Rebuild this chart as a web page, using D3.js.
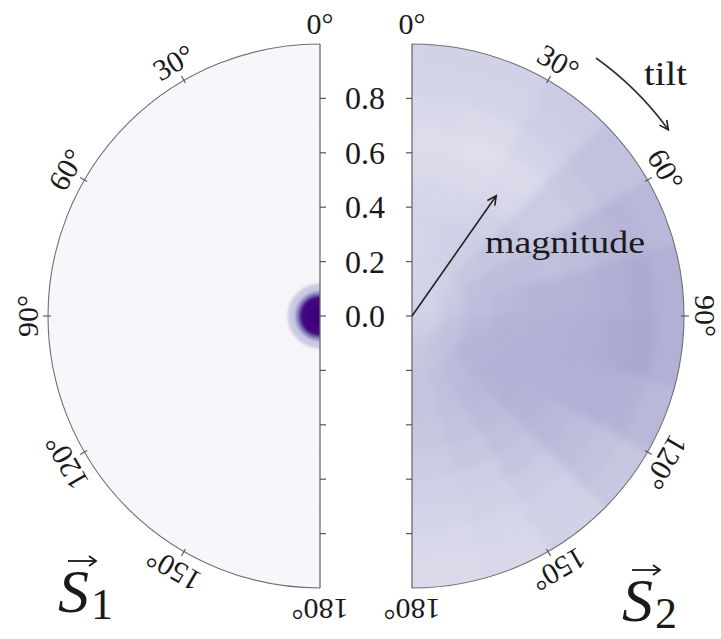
<!DOCTYPE html>
<html>
<head>
<meta charset="utf-8">
<script src="https://cdn.jsdelivr.net/npm/d3@7"></script>
<style>
  html, body { margin: 0; padding: 0; background: #ffffff; }
  svg { display: block; }
  text { font-family: "Liberation Serif", "DejaVu Serif", serif; fill: #1a1a1a; }
</style>
</head>
<body>
<svg id="chart" width="721" height="639"></svg>
<script>
// ---------------- DATA ----------------
// Radial bin edges (magnitude) and angular bin edges (tilt, degrees)
const radialEdges = [0, 0.04, 0.075, 0.09, 0.12, 0.2, 0.3, 0.4, 0.5, 0.6, 0.7, 0.8, 0.9, 1.0];
const tiltEdges = [0, 15, 30, 45, 60, 75, 90, 105, 120, 135, 150, 165, 180];

// S1 density (colour-scale value) per radial bin; uniform in tilt
const s1Density = [1.0, 0.98, 0.62, 0.32, 0.05, 0.04, 0.04, 0.04, 0.04, 0.04, 0.04, 0.04, 0.04];

// S2 density: one row per tilt bin, one column per radial bin
const s2Density = [
  [0.27, 0.27, 0.27, 0.27, 0.27, 0.27, 0.27, 0.26, 0.24, 0.23, 0.25, 0.27, 0.28],
  [0.27, 0.27, 0.27, 0.27, 0.27, 0.28, 0.28, 0.26, 0.24, 0.22, 0.24, 0.27, 0.28],
  [0.27, 0.27, 0.27, 0.27, 0.28, 0.30, 0.30, 0.28, 0.25, 0.24, 0.27, 0.30, 0.31],
  [0.27, 0.27, 0.27, 0.28, 0.30, 0.33, 0.34, 0.33, 0.31, 0.31, 0.33, 0.35, 0.35],
  [0.27, 0.27, 0.28, 0.29, 0.32, 0.36, 0.37, 0.37, 0.36, 0.37, 0.39, 0.40, 0.39],
  [0.28, 0.28, 0.29, 0.30, 0.33, 0.37, 0.39, 0.40, 0.40, 0.41, 0.43, 0.44, 0.42],
  [0.28, 0.28, 0.29, 0.31, 0.35, 0.39, 0.41, 0.41, 0.42, 0.43, 0.44, 0.45, 0.42],
  [0.29, 0.29, 0.30, 0.32, 0.36, 0.40, 0.41, 0.42, 0.42, 0.42, 0.42, 0.41, 0.39],
  [0.29, 0.29, 0.30, 0.32, 0.36, 0.40, 0.41, 0.41, 0.40, 0.39, 0.37, 0.35, 0.33],
  [0.30, 0.30, 0.31, 0.32, 0.35, 0.38, 0.39, 0.38, 0.36, 0.34, 0.31, 0.29, 0.28],
  [0.30, 0.30, 0.31, 0.32, 0.34, 0.36, 0.36, 0.35, 0.33, 0.30, 0.28, 0.26, 0.25],
  [0.30, 0.30, 0.31, 0.32, 0.33, 0.34, 0.34, 0.33, 0.31, 0.29, 0.27, 0.25, 0.24]
];

// Tick labels
const radialTicks = [0.0, 0.2, 0.4, 0.6, 0.8];
const radialMinorTicks = [0.2, 0.4, 0.6, 0.8];
const angleTicks = [0, 30, 60, 90, 120, 150, 180];

// Annotations (data units)
const magnitudeArrow = { tilt: 35, length: 0.54 };
const tiltArrow = { r: 1.165, from: 35.5, to: 54 };

// ---------------- LAYOUT ----------------
const svg = d3.select("#chart");
const R = 272;
const cy = 316;
const cxL = 320, cxR = 412;
const rScale = d3.scaleLinear().domain([0, 1]).range([0, R]);
const aScale = d3.scaleLinear().domain([0, 180]).range([0, Math.PI]);
const color = d3.scaleSequential(d3.interpolatePurples).domain([0, 1]);

const defs = svg.append("defs");
defs.append("marker").attr("id", "head").attr("viewBox", "-10 -6 12 12")
  .attr("refX", 0).attr("refY", 0).attr("markerWidth", 12).attr("markerHeight", 12)
  .attr("markerUnits", "userSpaceOnUse").attr("orient", "auto")
  .append("path").attr("d", "M-9,-4.5 L0,0 L-9,4.5").attr("fill", "none")
  .attr("stroke", "#222").attr("stroke-width", 1.6);

function addSmoothFilter(id, sd) {
  const f = defs.append("filter").attr("id", id)
    .attr("x", "-10%").attr("y", "-10%").attr("width", "120%").attr("height", "120%")
    .attr("color-interpolation-filters", "sRGB");
  f.append("feGaussianBlur").attr("stdDeviation", sd);
  f.append("feComponentTransfer").append("feFuncA")
    .attr("type", "table").attr("tableValues", "1 1");
}
addSmoothFilter("smoothL", 1.6);
addSmoothFilter("smoothR", 4.5);

const arc = d3.arc();

function drawDisk(cx, side, valueAt, key) {
  const g = svg.append("g").attr("transform", `translate(${cx},${cy})`);
  const halfDisk = arc({ innerRadius: 0, outerRadius: R,
      startAngle: side > 0 ? 0 : -Math.PI, endAngle: side > 0 ? Math.PI : 0 });
  defs.append("clipPath").attr("id", "clip" + key)
    .append("path").attr("d", halfDisk);

  const cells = [];
  for (let i = 0; i < tiltEdges.length - 1; i++) {
    for (let j = 0; j < radialEdges.length - 1; j++) {
      cells.push({ i, j, v: valueAt(i, j) });
    }
  }
  const heat = g.append("g").attr("clip-path", `url(#clip${key})`)
    .append("g").attr("filter", `url(#smooth${key})`);
  heat.selectAll("path.cell").data(cells).enter().append("path")
    .attr("class", "cell")
    .attr("d", d => {
      const a1 = side * aScale(tiltEdges[d.i]);
      const a2 = side * aScale(tiltEdges[d.i + 1]);
      return arc({
        innerRadius: rScale(radialEdges[d.j]),
        outerRadius: rScale(radialEdges[d.j + 1]),
        startAngle: Math.min(a1, a2),
        endAngle: Math.max(a1, a2)
      });
    })
    .attr("fill", d => color(d.v))
    .attr("stroke", d => color(d.v)).attr("stroke-width", 0.6);

  // outer arc
  g.append("path")
    .attr("d", arc({ innerRadius: R, outerRadius: R,
      startAngle: side > 0 ? 0 : -Math.PI, endAngle: side > 0 ? Math.PI : 0 }))
    .attr("fill", "none").attr("stroke", "#707070").attr("stroke-width", 1.1);

  // radial axis line (vertical)
  g.append("line").attr("x1", 0).attr("x2", 0)
    .attr("y1", -rScale(1)).attr("y2", rScale(1))
    .attr("stroke", "#6a6a6a").attr("stroke-width", 1.3);

  // radial ticks (pointing into the gap)
  const tickDir = side > 0 ? -1 : 1;
  const allTicks = radialTicks.map(t => -t).concat(radialMinorTicks);
  g.selectAll("line.rtick").data(allTicks).enter().append("line")
    .attr("x1", 0).attr("x2", tickDir * 6)
    .attr("y1", d => d < 0 ? -rScale(-d) : (d === 0 ? 0 : rScale(d)))
    .attr("y2", d => d < 0 ? -rScale(-d) : (d === 0 ? 0 : rScale(d)))
    .attr("stroke", "#555").attr("stroke-width", 1.2);

  // angular ticks and labels
  const LR = 293;
  angleTicks.forEach(t => {
    const a = side * aScale(t);
    const sx = Math.sin(a), sy = -Math.cos(a);
    if (t !== 0 && t !== 180) {
      g.append("line")
        .attr("x1", sx * (R - 3)).attr("y1", sy * (R - 3))
        .attr("x2", sx * (R + 5)).attr("y2", sy * (R + 5))
        .attr("stroke", "#555").attr("stroke-width", 1.1);
    }
    g.append("text")
      .attr("transform", `translate(${sx * LR},${sy * LR}) rotate(${side * t})`)
      .attr("text-anchor", "middle").attr("dominant-baseline", "central")
      .attr("font-size", 30).text(t + "°");
  });
  return g;
}

drawDisk(cxL, -1, (i, j) => s1Density[j], "L");
const gR = drawDisk(cxR, 1, (i, j) => s2Density[i][j], "R");

// radial tick labels in the gap
svg.append("g").selectAll("text").data(radialTicks).enter().append("text")
  .attr("x", (cxL + cxR) / 2 - 1).attr("y", d => cy - rScale(d))
  .attr("text-anchor", "middle").attr("dominant-baseline", "central")
  .attr("font-size", 32).text(d => d.toFixed(1));

// magnitude arrow
const ma = aScale(magnitudeArrow.tilt);
gR.append("line").attr("x1", 0).attr("y1", 0)
  .attr("x2", Math.sin(ma) * rScale(magnitudeArrow.length))
  .attr("y2", -Math.cos(ma) * rScale(magnitudeArrow.length))
  .attr("stroke", "#222").attr("stroke-width", 1.6).attr("marker-end", "url(#head)");
gR.append("text").attr("x", 73).attr("y", -63).attr("font-size", 31)
  .attr("textLength", 160).attr("lengthAdjust", "spacingAndGlyphs").text("magnitude");

// tilt arrow
const tr = rScale(tiltArrow.r);
const t1 = aScale(tiltArrow.from), t2 = aScale(tiltArrow.to);
gR.append("path")
  .attr("d", `M${Math.sin(t1) * tr},${-Math.cos(t1) * tr} A${tr},${tr} 0 0 1 ${Math.sin(t2) * tr},${-Math.cos(t2) * tr}`)
  .attr("fill", "none").attr("stroke", "#333").attr("stroke-width", 1.6)
  .attr("marker-end", "url(#head)");
gR.append("text").attr("x", 232).attr("y", -231).attr("font-size", 33)
  .attr("textLength", 43).attr("lengthAdjust", "spacingAndGlyphs").text("tilt");

// S labels with vector arrows
function vecLabel(x, y, sub) {
  const g = svg.append("g").attr("transform", `translate(${x},${y})`);
  g.append("text").attr("x", 0).attr("y", 0).attr("font-size", 62)
    .attr("font-style", "italic").text("S");
  g.append("text").attr("x", 33).attr("y", 7).attr("font-size", 44).text(sub);
  g.append("line").attr("x1", 10).attr("x2", 37).attr("y1", -51).attr("y2", -51)
    .attr("stroke", "#1a1a1a").attr("stroke-width", 1.8);
  g.append("path").attr("d", "M31,-56 L38,-51 L31,-46").attr("fill", "none")
    .attr("stroke", "#1a1a1a").attr("stroke-width", 1.8);
}
vecLabel(58, 612, "1");
vecLabel(622, 621, "2");
</script>
</body>
</html>
